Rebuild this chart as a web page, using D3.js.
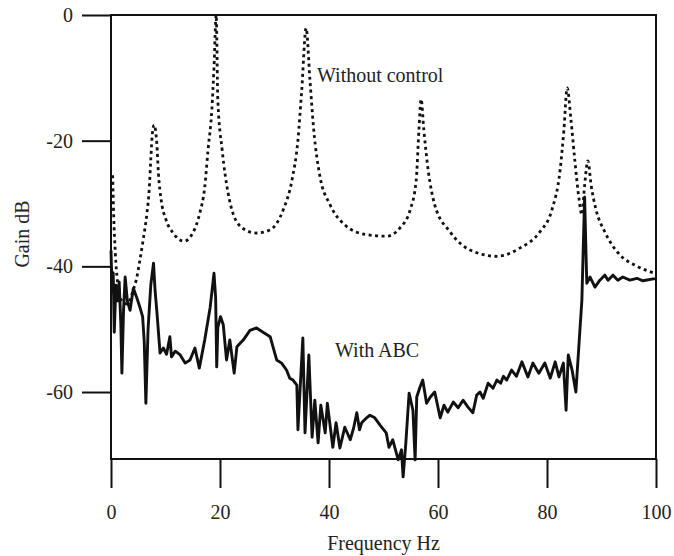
<!DOCTYPE html>
<html>
<head>
<meta charset="utf-8">
<script src="https://cdn.jsdelivr.net/npm/d3@7"></script>
<style>
  body { margin: 0; background: #fff; }
  svg text { font-family: "Liberation Serif", "DejaVu Serif", serif; fill: #222; }
</style>
</head>
<body>
<div id="chart"></div>
<script>
// tick values
const xTicks = [0, 20, 40, 60, 80, 100];
const yTicks = [0, -20, -40, -60];

// dotted curve: without control
const withoutFreq = [0.3, 0.5, 0.8, 1.2, 2, 3, 4, 4.8, 5.3, 5.9, 6.6, 7.0, 7.3, 7.5, 7.9, 8.4, 8.7, 9.2, 10.1, 11.4,
  13.4, 15.0, 16.3, 17.2, 17.8, 18.5, 18.9, 19.3, 19.6, 20.4, 21.5, 23.7, 26.6, 29.2, 31.6, 33.2, 34.3, 35, 35.8,
  36.5, 37.2, 38.3, 40.2, 42.9, 46.6, 50.6, 53, 54.9, 56, 56.5, 56.9, 57.4, 58.2, 59.4, 62.2, 65.9, 70.8, 75,
  78.7, 80.9, 82.4, 83.1, 83.7, 84.4, 85.1, 85.9, 86.4, 86.9, 87.5, 88.1, 89, 90.6, 93.4, 96.1, 99.8];
const withoutGain = [-25.5, -32, -38, -42.5, -45.5, -46, -44, -41.5, -39, -35.8, -31.5, -27.9, -23, -19.9, -17.5, -20.4, -25.2, -29.4, -32.6, -34.7,
  -36.0, -34.7, -31.5, -27.4, -21.5, -15.1, -8.3, 0, -13.5, -21.5, -28.4, -33.6, -34.7, -34.2, -31, -26.3, -19.9, -11.9, -2.1,
  -10.3, -18.3, -25.5, -30.2, -33.4, -34.9, -35.2, -33.9, -31, -26.3, -18.3, -13.4, -18.3, -24.7, -30.2, -34.5, -37.4, -38.4, -37.1,
  -34.5, -31, -24.7, -18.3, -11.6, -16.7, -23.1, -29.4, -31.8, -27.1, -23.2, -27.1, -31, -34.5, -38.2, -39.8, -41.1];

// solid curve: with ABC
const abcFreq = [0, 0.2, 0.4, 0.6, 0.9, 1.2, 1.5, 1.8, 2.0, 2.3, 2.6, 3.0, 3.5, 4.1, 4.7, 5.3, 5.8, 6.1, 6.4, 6.8,
  7.3, 7.8, 8.1, 8.4, 9.0, 9.6, 10.2, 10.8, 11.1, 11.8, 12.7, 13.6, 14.5, 15.4, 16.2, 17.2, 18.2, 18.9, 19.2, 19.4,
  19.6, 20.1, 20.6, 21.2, 21.8, 22.6, 23.1, 24.3, 25.5, 26.7, 27.9, 29.2, 30.4, 31.3, 32.2, 32.8, 33.4, 34.1, 34.3, 35.2,
  35.6, 36.3, 36.9, 37.4, 38, 38.5, 39.3, 39.7, 40.7, 41.3, 42, 42.9, 43.9, 44.5, 45.1, 45.6, 46, 46.9, 47.5, 48.4,
  49.4, 50.5, 51, 51.7, 52.7, 53.3, 53.6, 54.1, 54.7, 55.4, 55.8, 56.1, 56.7, 57.2, 57.9, 58.6, 59.4, 60.4, 61.1, 61.8,
  62.8, 63.7, 64.6, 65.5, 66.4, 67.1, 67.7, 68.3, 69.2, 70.1, 70.8, 71.5, 72, 72.6, 73.5, 74.4, 75.4, 76.5, 77.4, 78.5,
  79.6, 80.6, 81.5, 82.2, 83, 83.5, 83.9, 84.6, 85.3, 85.9, 86.4, 86.9, 87.1, 87.3, 87.9, 88.8, 89.7, 90.6, 91.2, 92.1,
  93, 93.9, 95.2, 96.5, 97.6, 99.5, 100];
const abcGain = [-37.5, -44, -41, -50.5, -43, -45.5, -42.5, -49, -57, -47, -41.7, -45.5, -47, -43.5, -44.9, -46.5, -48, -52, -61.8, -50,
  -43, -39.5, -44, -47, -53.8, -53, -54, -51.2, -54.4, -53.5, -54.1, -55.4, -54.9, -53, -56.2, -51.7, -46.5, -41.1, -45, -56,
  -49.7, -48, -49.3, -54.9, -51.7, -57, -52.8, -51.7, -50.2, -49.8, -50.5, -51.2, -54.9, -55.4, -56.5, -57.8, -58.1, -58.9, -66, -51.4,
  -66.5, -54.1, -67.2, -61.3, -68.1, -62.1, -66.5, -61.8, -68.8, -64.9, -68.9, -65.6, -67.6, -65.8, -63.3, -66, -64.9, -64.1, -63.7, -64.1,
  -65.3, -66.5, -68.8, -67.6, -70.8, -69.2, -73.5, -68.1, -60.2, -62.9, -70.8, -60.8, -59.2, -58.1, -61.8, -60.8, -60, -64.1, -62.1, -63.2,
  -61.6, -62.5, -61.3, -62.4, -63.3, -60.5, -60, -61, -58.6, -59.4, -58.1, -58.6, -57.5, -58.1, -56.5, -57.5, -55.2, -57.6, -55.4, -57,
  -55.4, -57.8, -55.2, -57.6, -55.4, -62.9, -54.1, -56.5, -60, -52, -45.4, -29, -36, -42.7, -41.7, -43.3, -42.2, -41.4, -42.2, -41.4,
  -42.2, -41.7, -42.2, -41.9, -42.3, -42.0, -42];

const width = 674;
const height = 556;
const margin = { top: 15, right: 18, bottom: 97, left: 111 };

const svg = d3.select("#chart")
  .append("svg")
  .attr("width", width)
  .attr("height", height);

const x = d3.scaleLinear()
  .domain([0, 100])
  .range([margin.left, width - margin.right]);

const y = d3.scaleLinear()
  .domain([-70.66, 0])
  .range([height - margin.bottom, margin.top]);

// axes (ticks stick out of the box), plain hyphen for negatives
const xAxis = svg.append("g")
  .attr("transform", `translate(0, ${height - margin.bottom})`)
  .call(d3.axisBottom(x).tickValues(xTicks).tickFormat(d => String(d))
    .tickSize(29).tickSizeOuter(0).tickPadding(17));

const yAxis = svg.append("g")
  .attr("transform", `translate(${margin.left}, 0)`)
  .call(d3.axisLeft(y).tickValues(yTicks).tickFormat(d => String(d))
    .tickSize(29).tickSizeOuter(0).tickPadding(9));

[xAxis, yAxis].forEach(ax => {
  ax.select(".domain").remove();
  ax.selectAll(".tick line").attr("stroke", "#111").attr("stroke-width", 2);
  ax.selectAll(".tick text").style("font-size", "20px").attr("fill", "#222");
});

// frame
svg.append("rect")
  .attr("x", x(0))
  .attr("y", y(0))
  .attr("width", x(100) - x(0))
  .attr("height", y(-70.66) - y(0))
  .attr("fill", "none")
  .attr("stroke", "#111")
  .attr("stroke-width", 2);

// curves
const dotted = withoutFreq.map((f, i) => [f, withoutGain[i]]);
const solid = abcFreq.map((f, i) => [f, abcGain[i]]);

svg.append("path")
  .datum(dotted)
  .attr("fill", "none")
  .attr("stroke", "#111")
  .attr("stroke-width", 2.8)
  .attr("stroke-dasharray", "3,3.5")
  .attr("d", d3.line().x(d => x(d[0])).y(d => y(d[1])).curve(d3.curveMonotoneX));

svg.append("path")
  .datum(solid)
  .attr("fill", "none")
  .attr("stroke", "#111")
  .attr("stroke-width", 2.9)
  .attr("stroke-linejoin", "round")
  .attr("d", d3.line().x(d => x(d[0])).y(d => y(d[1])));

// labels
svg.append("text")
  .attr("x", 317)
  .attr("y", 82)
  .style("font-size", "20px")
  .text("Without control");

svg.append("text")
  .attr("x", 335)
  .attr("y", 357)
  .style("font-size", "20px")
  .text("With ABC");

svg.append("text")
  .attr("x", (x(0) + x(100)) / 2)
  .attr("y", 550)
  .attr("text-anchor", "middle")
  .style("font-size", "20px")
  .text("Frequency Hz");

svg.append("text")
  .attr("transform", "translate(29, 234) rotate(-90)")
  .attr("text-anchor", "middle")
  .style("font-size", "20px")
  .text("Gain dB");
</script>
</body>
</html>
